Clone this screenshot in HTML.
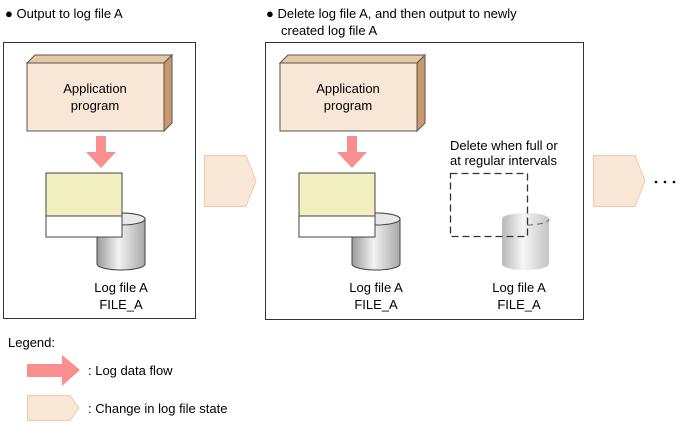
<!DOCTYPE html>
<html><head><style>
body{margin:0;background:#fff}
svg{display:block;font-family:"Liberation Sans",sans-serif;font-size:13px;fill:#000}
</style></head><body>
<svg width="679" height="424" viewBox="0 0 679 424">
<defs>
<linearGradient id="cyl" x1="0" x2="1"><stop offset="0" stop-color="#9a9a9a"/><stop offset="0.45" stop-color="#f2f2f2"/><stop offset="1" stop-color="#a8a8a8"/></linearGradient>
<linearGradient id="cyl2" x1="0" x2="1"><stop offset="0" stop-color="#b8b8b8"/><stop offset="0.45" stop-color="#f6f6f6"/><stop offset="1" stop-color="#c4c4c4"/></linearGradient>
</defs>
<text x="5" y="18">● Output to log file A</text>
<text x="266" y="18">● Delete log file A, and then output to newly</text>
<text x="281" y="35">created log file A</text>

<rect x="3.5" y="42.5" width="192" height="276" fill="#fff" stroke="#333"/>
<rect x="265.5" y="42.5" width="318" height="277" fill="#fff" stroke="#333"/>

<!-- left app -->
<g>
<polygon points="27,63 35,55 172,55 164,63" fill="#e6c7a6" stroke="#555"/>
<polygon points="164,63 172,55 172,123 164,131" fill="#c9996d" stroke="#555"/>
<rect x="27" y="63" width="137" height="68" fill="#f8e6d6" stroke="#555"/>
<text x="95" y="93" text-anchor="middle">Application</text>
<text x="95" y="110" text-anchor="middle">program</text>
</g>
<polygon points="96,136 106,136 106,152 116,152 101,168 86,152 96,152" fill="#fb8e8e"/>
<path d="M97,219 V264 A24,6 0 0 0 145,264 V219 A24,6 0 0 0 97,219 Z" fill="url(#cyl)" stroke="#444"/>
<ellipse cx="121" cy="219" rx="24" ry="6" fill="#e8e8e8" stroke="#444"/>
<rect x="46" y="173" width="76" height="43" fill="#f0efc0" stroke="#444"/>
<rect x="46" y="216" width="76" height="21" fill="#fff" stroke="#444"/>
<text x="121" y="292" text-anchor="middle">Log file A</text>
<text x="121" y="309" text-anchor="middle">FILE_A</text>

<!-- right app -->
<g transform="translate(253,0)">
<polygon points="27,63 35,55 172,55 164,63" fill="#e6c7a6" stroke="#555"/>
<polygon points="164,63 172,55 172,123 164,131" fill="#c9996d" stroke="#555"/>
<rect x="27" y="63" width="137" height="68" fill="#f8e6d6" stroke="#555"/>
<text x="95" y="93" text-anchor="middle">Application</text>
<text x="95" y="110" text-anchor="middle">program</text>
</g>
<g transform="translate(262,0)">
<polygon points="85,136 95,136 95,152 105,152 90,168 75,152 85,152" fill="#fb8e8e"/>
<path d="M90,219 V264 A24,6 0 0 0 138,264 V219 A24,6 0 0 0 90,219 Z" fill="url(#cyl)" stroke="#444"/>
<ellipse cx="114" cy="219" rx="24" ry="6" fill="#e8e8e8" stroke="#444"/>
<rect x="37" y="173" width="76" height="43" fill="#f0efc0" stroke="#444"/>
<rect x="37" y="216" width="76" height="21" fill="#fff" stroke="#444"/>
<text x="114" y="292" text-anchor="middle">Log file A</text>
<text x="114" y="309" text-anchor="middle">FILE_A</text>
</g>

<!-- deleted -->
<text x="450" y="150">Delete when full or</text>
<text x="450" y="165">at regular intervals</text>
<path d="M502,219 V264 A23,6 0 0 0 549,264 V219 A23,6 0 0 0 502,219 Z" fill="url(#cyl2)" stroke="none"/>
<path d="M527,225 A23,6 0 0 0 549,219" fill="none" stroke="#666" stroke-dasharray="6,4"/>
<rect x="450.5" y="173.5" width="77" height="63" fill="none" stroke="#333" stroke-width="1.3" stroke-dasharray="7,4"/>
<text x="519" y="292" text-anchor="middle">Log file A</text>
<text x="519" y="309" text-anchor="middle">FILE_A</text>

<!-- chevrons -->
<polygon points="204.5,155.5 246,155.5 256,181 246,206.5 204.5,206.5" fill="#f8e6d6" stroke="#f2c9a6"/>
<polygon points="593.5,155.5 635,155.5 645,181 635,206.5 593.5,206.5" fill="#f8e6d6" stroke="#f2c9a6"/>
<circle cx="656" cy="182" r="1.3" fill="#000"/><circle cx="665" cy="182" r="1.3" fill="#000"/><circle cx="674" cy="182" r="1.3" fill="#000"/>

<!-- legend -->
<text x="8" y="347">Legend:</text>
<polygon points="27,364 62,364 62,355 80,370 62,386 62,377 27,377" fill="#fb8e8e"/>
<text x="88" y="375">: Log data flow</text>
<polygon points="27.5,395.5 70,395.5 79,408 70,420.5 27.5,420.5" fill="#f8e6d6" stroke="#f2c9a6"/>
<text x="88" y="413">: Change in log file state</text>
</svg>
</body></html>
